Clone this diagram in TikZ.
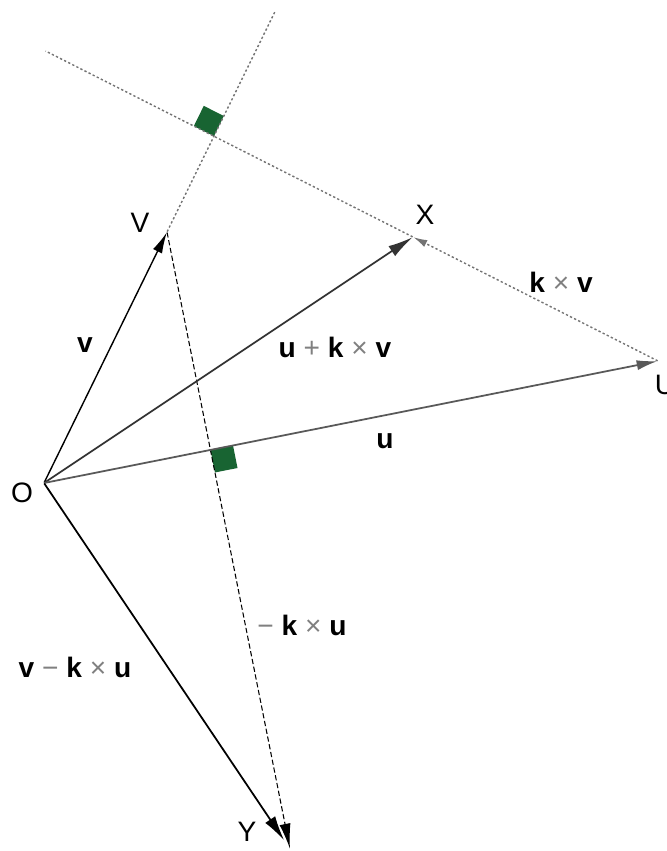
\documentclass[tikz,border=0pt]{standalone}
\usepackage{fontspec}
\setmainfont{Liberation Sans}
\usepackage{xcolor}
\usetikzlibrary{calc,arrows.meta}
\definecolor{sqgreen}{RGB}{24,100,50}
\newcommand{\gtimes}{{\color{gray}\texttimes}}
\newcommand{\gminus}{{\color{gray}−}}

\begin{document}
\begin{tikzpicture}[x=2cm, y=2cm, font=\fontsize{16}{19}\selectfont,
 pt/.style={inner sep=0pt, minimum size=0pt},
 vec/.style={-{Latex[length=0.42cm,width=0.2cm]}, line width=1pt},
 aux/.style={dash pattern=on 1.3pt off 1.3pt, black!55, line width=0.8pt},
 sq/.style={fill=sqgreen, draw=none}]
\useasboundingbox (-0.44,-3.68) rectangle (6.23,4.83);
\node[pt] (O) at (0,0) {};
\node[pt] (V) at (1.23,2.51) {};
\node[pt] (X) at (3.69,2.46) {};
\node[pt] (U) at (6.14,1.22) {};
\node[pt] (Y) at (2.46,-3.66) {};
\coordinate (vt) at ($(O)!1.88!(V)$);
\coordinate (xt) at ($(U)!2.5!(X)$);
% right angle marks
\coordinate (P1) at (intersection of O--V and U--X);
\coordinate (P2) at (intersection of O--U and V--Y);
\coordinate (a1) at ($(P1)!0.45cm!(vt)$);
\coordinate (b1) at ($(P1)!0.45cm!(xt)$);
\coordinate (a2) at ($(P2)!0.46cm!(U)$);
\coordinate (b2) at ($(P2)!0.46cm!(Y)$);
\fill[sq] (P1) -- (a1) -- ($(a1)+(b1)-(P1)$) -- (b1) -- cycle;
\fill[sq] (P2) -- (a2) -- ($(a2)+(b2)-(P2)$) -- (b2) -- cycle;
% construction lines
\draw[aux] (V) -- (vt);
\draw[aux] (X) -- (xt);
\path
(U) edge[aux, -{Latex[length=0.28cm,width=0.15cm]}] (X)
(V) edge[dash pattern=on 3pt off 1.5pt, line width=0.6pt, -{Latex[length=0.5cm,width=0.22cm]}] (Y)
(O) edge[vec, line width=0.8pt] (V)
(O) edge[vec, black!80, -{Latex[length=0.5cm,width=0.24cm]}] (X)
(O) edge[vec, black!65] (U)
(O) edge[vec, shorten >=0.2cm, -{Latex[length=0.5cm,width=0.24cm]}] (Y);
% labels
\node (lO) at (-0.22,-0.10) {O};
\node (lV) at (0.96,2.60) {V};
\node (lX) at (3.81,2.68) {X};
\node (lU) at (6.21,0.98) {U};
\node (lY) at (2.03,-3.49) {Y};
\node (lv) at (0.41,1.38) {\textbf{v}};
\node (luv) at (2.91,1.36) {\textbf{u} {\color{gray}+} \textbf{k} \gtimes{} \textbf{v}};
\node (lkv) at (5.17,2.01) {\textbf{k} \gtimes{} \textbf{v}};
\node (lu) at (3.41,0.42) {\textbf{u}};
\node (lku) at (2.58,-1.42) {\gminus{} \textbf{k} \gtimes{} \textbf{u}};
\node (lvku) at (0.31,-1.84) {\textbf{v} \gminus{} \textbf{k} \gtimes{} \textbf{u}};
\end{tikzpicture}
\end{document}
